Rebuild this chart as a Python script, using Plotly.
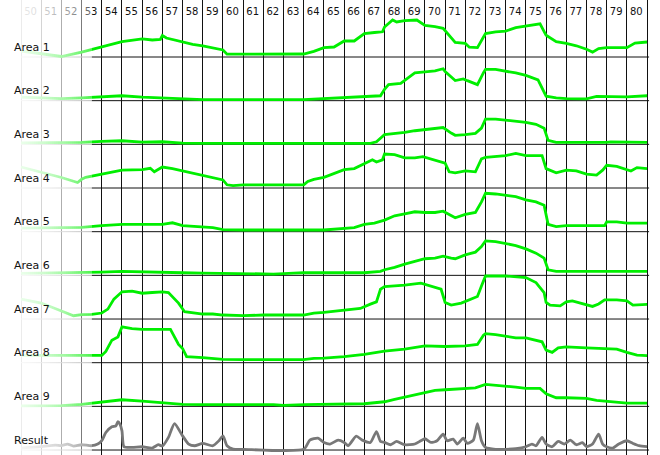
import plotly.graph_objects as go

# ---- data -------------------------------------------------------------
columns = list(range(50, 81))          # column labels shown at the top
row_labels = ["Area 1", "Area 2", "Area 3", "Area 4", "Area 5",
              "Area 6", "Area 7", "Area 8", "Area 9", "Result"]

area1 = [(50, 6), (51, 3.5), (52, 0.5), (53, 4.9), (54, 10.5), (55, 15.4), (56, 18.2), (56.5, 17),
         (56.9, 17.5), (57.0, 21.5), (57.2, 19), (58, 14.7), (58.5, 12.6), (59, 11.2), (59.5, 9.1),
         (60, 7), (60.2, 2.8), (61, 2.8), (62, 2.8), (63, 2.8), (64, 3), (64.5, 5.6), (65, 9.4),
         (65.5, 10), (66, 16), (66.5, 16), (67, 23.4), (67.5, 24.5), (67.9, 25.2), (68, 30),
         (68.4, 37), (68.6, 35), (69, 36.4), (69.6, 37), (70, 31.5), (70.5, 30.4), (70.9, 28.7),
         (71.5, 14.7), (72, 13.6), (72.2, 9.8), (72.6, 9.4), (72.9, 20), (73, 23.4), (73.5, 25.2),
         (74, 25.9), (74.5, 29.4), (75, 31), (75.7, 33.2), (76, 21.7), (76.5, 15.4), (77, 13.6),
         (77.5, 11.2), (78, 7.7), (78.3, 4.9), (78.6, 8.5), (79, 9.4), (80, 9.4), (80.4, 14), (81, 15)]

area2 = [(50, 3.5), (51, 3), (52, 2), (53, 2.8), (54, 3.5), (55, 4.9), (56, 3.5), (57, 2.8),
         (58, 1.4), (59, 1), (64, 1), (64.7, 1.7), (65.5, 2.8), (66, 3.5), (67, 3.8), (67.8, 4.9),
         (68, 11.4), (68.2, 16), (68.8, 17.3), (69.3, 25.3), (69.5, 27.7), (70, 28.8), (70.5, 29.8),
         (70.9, 31.9), (71, 29), (71.5, 20.1), (71.9, 21.8), (72.1, 20), (72.5, 16.6), (72.6, 16),
         (72.9, 28), (73, 31.2), (73.5, 31.2), (74, 29.8), (74.5, 27.7), (75, 25.3), (75.6, 20.8),
         (76, 4.5), (76.5, 2.8), (77, 2), (78, 1.7), (78.5, 4.2), (79, 4.2), (80, 3.8), (81, 4.9)]

area3 = [(50, 1.5), (52, 1.6), (53, 2), (54, 2.9), (55, 3.6), (56, 2.3), (57, 2.6), (58, 1.3),
         (59, 1), (67.3, 1), (67.6, 2.6), (68, 9.7), (68.5, 10.7), (69, 12), (69.5, 13.6),
         (70, 14.9), (70.5, 15.5), (70.9, 16.8), (71.3, 11.3), (71.5, 9), (72, 9.7), (72.5, 11),
         (72.8, 16.2), (73, 25.2), (73.5, 25.2), (74, 24), (74.5, 23.3), (75, 22), (75.5, 20),
         (75.9, 16.2), (76.1, 3.9), (76.5, 1.9), (79, 1.9), (79.2, 2.5), (81, 1.9)]

area4 = [(50, 21), (51, 16), (52, 10.5), (52.8, 5.5), (53, 8.7), (53.2, 10.7), (54, 13.9), (55, 17.8),
         (56, 18.4), (56.4, 19.7), (56.6, 16.2), (57, 21), (57.5, 19.4), (58, 17.2), (58.5, 14.6),
         (59, 12.6), (59.5, 10), (60, 8.1), (60.2, 3.2), (60.5, 2.3), (61, 3.2), (64, 3.2),
         (64.2, 6.5), (64.5, 8.7), (65, 10.7), (65.5, 14.6), (66, 18.4), (66.5, 19.4), (67, 24.3),
         (67.4, 28.2), (67.6, 26), (67.9, 28.2), (68, 34), (68.5, 33.3), (69, 30.1), (69.5, 30.1),
         (69.9, 31.4), (70.5, 27.5), (71, 24.9), (71.2, 16.2), (71.5, 15.2), (72, 17.2), (72.5, 16.2),
         (72.8, 29.1), (73, 30.7), (74, 32.4), (74.5, 34.6), (75, 32.4), (75.8, 32.4), (76, 19.4),
         (76.5, 15.2), (77, 17.8), (77.5, 17.2), (78, 13.9), (78.5, 12.9), (78.8, 17.8), (79, 22.7),
         (79.5, 21.7), (80, 18.4), (80.2, 17), (80.5, 20.4), (81, 19.4)]

area5 = [(50, 3.5), (52, 4), (53, 4.3), (54, 6), (55, 7.3), (57, 7.3), (57.5, 8.9), (58, 6),
         (59, 5), (59.5, 4), (60, 2), (61, 1.7), (65, 1.7), (66.5, 4), (67, 7.3), (67.5, 8.6),
         (68, 11.6), (68.5, 15.9), (69, 17.9), (69.5, 19.9), (70, 19.2), (70.5, 19.2), (70.9, 20.5),
         (71.5, 13.9), (72, 17.2), (72.5, 19.2), (72.8, 29.8), (73, 38.4), (73.5, 37.7), (74, 36.4),
         (74.5, 35), (75, 31.8), (75.5, 29.8), (75.9, 26.5), (76.1, 7.3), (76.5, 5), (77, 6),
         (78.9, 6), (79, 9.9), (79.5, 9.9), (80, 8.6), (81, 8.6)]

area6 = [(50, 2), (53, 2.6), (54, 3.3), (55, 4), (56, 3.3), (57, 3.3), (58, 2.6), (59, 2.3),
         (60, 2), (62.5, 1.3), (63.5, 2.2), (64, 2.6), (67, 2.6), (67.8, 4), (68, 5.6), (68.5, 7.9),
         (69, 11.3), (69.5, 13.9), (70, 16.6), (70.5, 17.2), (70.9, 19.2), (71.3, 17.2), (71.5, 16.6),
         (72, 20.5), (72.5, 23.2), (72.8, 28.8), (73, 34.4), (73.5, 33.8), (74, 31.8), (74.5, 29.8),
         (75, 26.5), (75.5, 22.2), (75.9, 17.2), (76.1, 5.6), (76.5, 4), (78, 4), (79, 3.3),
         (80, 3.3), (81, 4)]

area7 = [(50, 20), (51, 16), (52, 8), (52.6, 3.3), (53, 4.3), (53.5, 4.6), (54, 6), (54.3, 9.9),
         (54.6, 19.9), (55, 27.2), (55.5, 27.8), (56, 25.8), (56.5, 26.5), (57, 27.2), (57.3, 26.5),
         (57.8, 15.9), (58.1, 7.3), (58.5, 6), (59, 5), (59.5, 5), (60, 4), (61, 3.3), (62, 4),
         (64, 4), (64.5, 6), (65, 6.6), (66, 8.6), (66.8, 10.6), (67.3, 14.9), (67.6, 17.2),
         (67.8, 29.8), (68, 32.5), (68.5, 33.1), (69, 33.8), (69.8, 35.8), (70.3, 33.1), (70.8, 29.8),
         (71, 16.6), (71.3, 13.9), (71.8, 15.9), (72.2, 19.2), (72.6, 22.5), (72.8, 33.1), (73, 43),
         (74, 43), (74.5, 42.4), (75, 41.4), (75.5, 36.4), (75.9, 26.5), (76, 16.6), (76.2, 13.9),
         (76.7, 13.2), (77, 17.2), (77.3, 18.2), (77.7, 15.9), (78, 14.9), (78.3, 12.6), (78.6, 15),
         (78.9, 19.2), (79.5, 19.2), (80, 18.2), (80.3, 13.9), (81, 14.6)]

area8 = [(50, 7.3), (54, 7.3), (54.2, 11.3), (54.5, 22.5), (54.8, 25.8), (55, 35.8), (55.5, 34.1),
         (56, 33.4), (57.4, 33.4), (57.8, 18.2), (58, 14.2), (58.2, 6), (59, 5), (60, 3.3), (61, 3),
         (64, 3), (64.5, 4.3), (65, 4.6), (66, 6), (67, 8.3), (68, 11.6), (69, 13.6), (70, 16.9),
         (71, 16.2), (72, 16.9), (72.6, 18.2), (72.9, 27.5), (73, 29.1), (73.5, 28.1), (74, 26.8),
         (74.5, 24.8), (75, 24.8), (75.5, 22.5), (75.8, 20.9), (76, 12.6), (76.3, 10.3), (76.6, 14.9),
         (77, 15.9), (78, 14.9), (79, 14.2), (79.5, 13.6), (80, 10.3), (80.5, 7.6), (81, 7)]

area9 = [(50, 0.5), (52, 0.7), (53, 2), (54, 4.6), (55, 6.6), (56, 5.3), (57, 3.6), (58, 2),
         (59, 1.7), (62.5, 1.7), (63, 0.9), (64, 1.8), (67, 2.6), (68, 4.6), (68.5, 7), (69, 9.3),
         (69.5, 11.9), (70, 13.9), (70.5, 15.9), (71, 16.6), (71.5, 17.2), (72, 17.9), (72.5, 18.5),
         (73, 21.9), (73.5, 21.2), (74, 19.9), (74.5, 19.2), (75, 17.9), (75.7, 17.9), (76, 12.6),
         (76.5, 8.6), (77, 8.6), (78, 7.9), (78.5, 6), (79, 5.3), (79.5, 4), (80, 3.3), (81, 3.3)]

result = [(50, 2), (51, 3.3), (51.7, 5), (52, 4.5), (52.3, 6), (52.6, 4), (53, 5.3), (53.5, 4.3),
          (53.8, 6), (54, 9.3), (54.2, 17.5), (54.5, 23.2), (54.7, 24.2), (54.8, 28.5), (54.9, 25.8),
          (55, 19.2), (55.1, 3.3), (55.5, 2.6), (56, 3.3), (56.5, 2), (56.8, 5.3), (57, 4),
          (57.3, 12.6), (57.6, 26.5), (58, 14.2), (58.3, 6), (58.6, 4.3), (59, 6.6), (59.5, 4.3),
          (59.8, 9.3), (60, 14.2), (60.2, 4.3), (60.5, 1), (61, 0.7), (64, 0.7), (64.3, 9.9),
          (64.7, 11.9), (65, 7.6), (65.3, 6), (65.7, 9.9), (66, 7.6), (66.2, 4.3), (66.6, 13.9),
          (66.9, 9.9), (67.3, 7.6), (67.6, 18.5), (67.8, 8.6), (68, 7.6), (68.3, 5.3), (68.6, 8.6),
          (69, 5.3), (69.5, 6), (69.8, 9.3), (70, 11.3), (70.3, 7.6), (70.6, 9.3), (70.9, 15.9),
          (71.1, 9.3), (71.4, 10.9), (71.6, 6), (71.9, 11.9), (72.1, 6.6), (72.4, 9.9), (72.6, 26.5),
          (72.8, 9.3), (73, 2.6), (73.5, 0.7), (74, 0.7), (74.5, 1.3), (75, 3.3), (75.3, 6),
          (75.5, 4.3), (75.8, 12.6), (76, 6), (76.3, 3.3), (76.6, 8.6), (76.9, 6), (77.2, 9.9),
          (77.5, 5.3), (77.8, 7.3), (78, 3.3), (78.3, 6), (78.6, 15.9), (78.8, 6), (79, 3.3),
          (79.3, 2), (79.6, 6), (80, 9.3), (80.3, 6.6), (80.6, 4.3), (81, 3.3)]

series = [area1, area2, area3, area4, area5, area6, area7, area8, area9, result]

# ---- layout constants -------------------------------------------------
W, H = 660, 455
ROW = 43.67           # vertical distance between row baselines (y units = px)
TOP = 57              # y value at top edge (baseline of row 0 is y=0)
X0, X1 = 48.96, 81.64
GREEN = "#00ee00"
GREY = "#787878"

fig = go.Figure()

for i, (name, data) in enumerate(zip(row_labels, series)):
    xs = [p[0] for p in data]
    ys = [p[1] - i * ROW for p in data]
    is_result = name == "Result"
    fig.add_trace(go.Scatter(
        x=xs, y=ys, mode="lines", name=name,
        line=dict(color=GREY if is_result else GREEN, width=2.8,
                  shape="spline" if is_result else "linear",
                  smoothing=0.6 if is_result else None),
        hoverinfo="skip", showlegend=False))

# column labels along the top
fig.add_trace(go.Scatter(
    x=[c + 0.47 for c in columns], y=[TOP - 12] * len(columns),
    text=[str(c) for c in columns], mode="text",
    textfont=dict(family="DejaVu Sans", size=10, color="#111"),
    hoverinfo="skip", showlegend=False, cliponaxis=False))

shapes = []
for i in range(len(row_labels)):
    yb = -i * ROW
    shapes.append(dict(type="line", xref="x", yref="y", x0=50, x1=53.5, y0=yb, y1=yb,
                       line=dict(color="#9a9a9a", width=1), layer="between"))
    shapes.append(dict(type="line", xref="x", yref="y", x0=53.5, x1=81.1, y0=yb, y1=yb,
                       line=dict(color="#111", width=1), layer="between"))

# white fade over the left edge
FADE_W = 92
step = 2
for px in range(0, FADE_W, step):
    c = px + step / 2
    op = 0.95 - 0.65 * (c / FADE_W) ** 2
    shapes.append(dict(type="rect", xref="paper", yref="paper",
                       x0=px / W, x1=(px + step) / W, y0=0, y1=1,
                       fillcolor="white", opacity=op, line=dict(width=0), layer="above"))

annotations = []
for i, name in enumerate(row_labels):
    annotations.append(dict(x=12 / W, xref="paper", y=-i * ROW + 10, yref="y",
                            text=name, showarrow=False, xanchor="left", yanchor="middle",
                            font=dict(family="DejaVu Sans", size=11, color="#111")))

fig.update_layout(
    width=W, height=H, margin=dict(l=0, r=0, t=0, b=0),
    paper_bgcolor="white", plot_bgcolor="white",
    xaxis=dict(range=[X0, X1], showgrid=True, tick0=50, dtick=1, gridcolor="#111",
               gridwidth=1, showticklabels=False, zeroline=False, ticks="", fixedrange=True),
    yaxis=dict(range=[TOP - H, TOP], showgrid=False, showticklabels=False,
               zeroline=False, ticks="", fixedrange=True),
    shapes=shapes, annotations=annotations, showlegend=False,
)

fig.write_html("out.html", config={"displayModeBar": False},
               post_script="document.body.style.margin='0';document.body.style.padding='0';")
